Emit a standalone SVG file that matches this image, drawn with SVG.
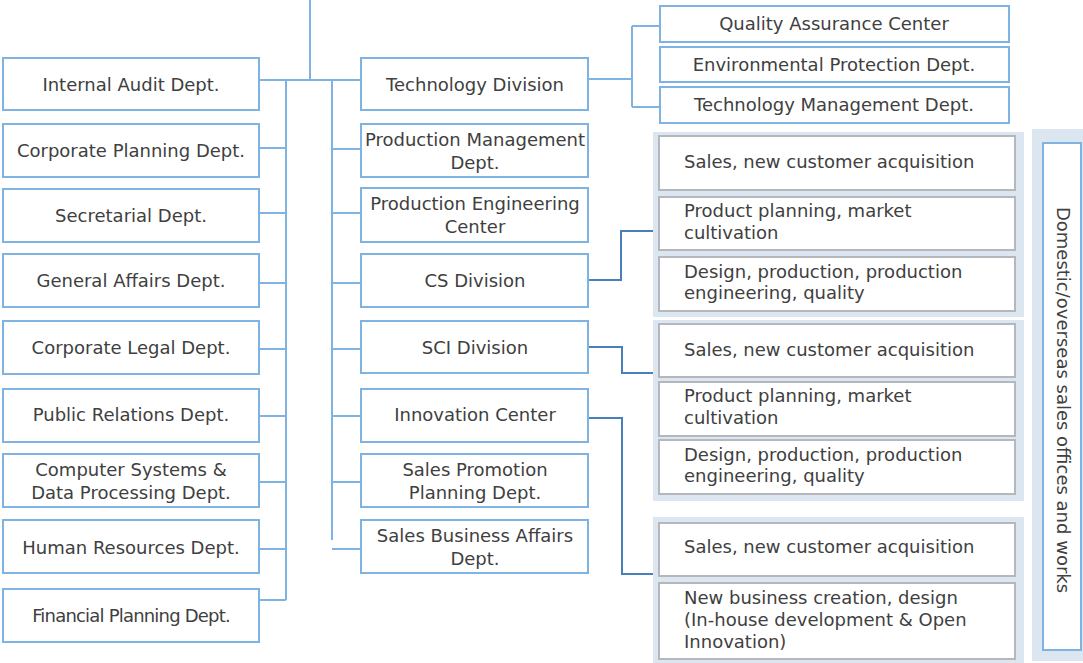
<svg xmlns="http://www.w3.org/2000/svg" width="1083" height="663" viewBox="0 0 1083 663">
<style>
.box{fill:#fff;stroke:#7fb3e1;stroke-width:2}
.sub{fill:#fff;stroke:#b4b8bc;stroke-width:2}
.panel{fill:#dce6f1}
.ln{fill:none;stroke:#7fb3e1;stroke-width:2}
.dk{fill:none;stroke:#4a7fbd;stroke-width:2}
text{font-family:"DejaVu Sans",Verdana,sans-serif;font-size:18px;fill:#404040}
.c{text-anchor:middle}
</style>
<rect width="1083" height="663" fill="#fff"/>
<g id="connectors">
<path class="ln" d="M310,0 V80 M259,80 H360 M286,80 V600 M332,80 V540"/>
<path class="ln" d="M259,148 H286 M259,213 H286 M259,283 H286 M259,349 H286 M259,416 H286 M259,482 H286 M259,549 H286 M259,600 H286"/>
<path class="ln" d="M332,149 H360 M332,213 H360 M332,283 H360 M332,349 H360 M332,416 H360 M332,482 H360 M332,549 H360"/>
<path class="ln" d="M588,79 H632 M632,26 V107 M632,26 H659 M632,107 H659"/>
<path class="dk" d="M588,280 H621 V231 H653"/>
<path class="dk" d="M588,347 H622 V373 H658"/>
<path class="dk" d="M588,418 H622 V574 H653"/>
</g>
<g id="internal-audit"><rect class="box" x="3" y="58" width="256" height="52"/><text class="c" x="131" y="91">Internal Audit Dept.</text></g>
<g id="corporate-planning"><rect class="box" x="3" y="124" width="256" height="53"/><text class="c" x="131" y="157">Corporate Planning Dept.</text></g>
<g id="secretarial"><rect class="box" x="3" y="189" width="256" height="53"/><text class="c" x="131" y="222">Secretarial Dept.</text></g>
<g id="general-affairs"><rect class="box" x="3" y="254" width="256" height="53"/><text class="c" x="131" y="287">General Affairs Dept.</text></g>
<g id="corporate-legal"><rect class="box" x="3" y="321" width="256" height="53"/><text class="c" x="131" y="354">Corporate Legal Dept.</text></g>
<g id="public-relations"><rect class="box" x="3" y="389" width="256" height="53"/><text class="c" x="131" y="421">Public Relations Dept.</text></g>
<g id="computer-systems"><rect class="box" x="3" y="454" width="256" height="53"/><text class="c" x="131" y="476">Computer Systems &amp;</text><text class="c" x="131" y="499">Data Processing Dept.</text></g>
<g id="human-resources"><rect class="box" x="3" y="520" width="256" height="53"/><text class="c" x="131" y="554">Human Resources Dept.</text></g>
<g id="financial-planning"><rect class="box" x="3" y="589" width="256" height="53"/><text class="c" x="131" y="622" letter-spacing="-0.8">Financial Planning Dept.</text></g>

<g id="technology-division"><rect class="box" x="361" y="58" width="227" height="52"/><text class="c" x="475" y="91">Technology Division</text></g>
<g id="production-management"><rect class="box" x="361" y="124" width="227" height="53"/><text class="c" x="475" y="146">Production Management</text><text class="c" x="475" y="169">Dept.</text></g>
<g id="production-engineering"><rect class="box" x="361" y="188" width="227" height="54"/><text class="c" x="475" y="210">Production Engineering</text><text class="c" x="475" y="233">Center</text></g>
<g id="cs-division"><rect class="box" x="361" y="254" width="227" height="53"/><text class="c" x="475" y="287">CS Division</text></g>
<g id="sci-division"><rect class="box" x="361" y="321" width="227" height="52"/><text class="c" x="475" y="354">SCI Division</text></g>
<g id="innovation-center"><rect class="box" x="361" y="389" width="227" height="53"/><text class="c" x="475" y="421">Innovation Center</text></g>
<g id="sales-promotion"><rect class="box" x="361" y="454" width="227" height="53"/><text class="c" x="475" y="476">Sales Promotion</text><text class="c" x="475" y="499">Planning Dept.</text></g>
<g id="sales-business-affairs"><rect class="box" x="361" y="520" width="227" height="53"/><text class="c" x="475" y="542">Sales Business Affairs</text><text class="c" x="475" y="565">Dept.</text></g>

<g id="quality-assurance"><rect class="box" x="660" y="6" width="349" height="36"/><text class="c" x="834" y="30">Quality Assurance Center</text></g>
<g id="environmental-protection"><rect class="box" x="660" y="47" width="349" height="35"/><text class="c" x="834" y="71">Environmental Protection Dept.</text></g>
<g id="technology-management"><rect class="box" x="660" y="87" width="349" height="36"/><text class="c" x="834" y="111">Technology Management Dept.</text></g>

<g id="cs-group">
<rect class="panel" x="653" y="132" width="371" height="185"/>
<rect class="sub" x="659" y="136" width="356" height="54"/><text x="684" y="168">Sales, new customer acquisition</text>
<rect class="sub" x="659" y="197" width="356" height="53"/><text x="684" y="217">Product planning, market</text><text x="684" y="239">cultivation</text>
<rect class="sub" x="659" y="257" width="356" height="54"/><text x="684" y="278">Design, production, production</text><text x="684" y="299">engineering, quality</text>
</g>
<g id="sci-group">
<rect class="panel" x="653" y="320" width="371" height="181"/>
<rect class="sub" x="659" y="324" width="356" height="53"/><text x="684" y="356">Sales, new customer acquisition</text>
<rect class="sub" x="659" y="382" width="356" height="54"/><text x="684" y="402">Product planning, market</text><text x="684" y="424">cultivation</text>
<rect class="sub" x="659" y="440" width="356" height="54"/><text x="684" y="461">Design, production, production</text><text x="684" y="482">engineering, quality</text>
</g>
<g id="innovation-group">
<rect class="panel" x="653" y="517" width="371" height="146"/>
<rect class="sub" x="659" y="523" width="356" height="53"/><text x="684" y="553">Sales, new customer acquisition</text>
<rect class="sub" x="659" y="583" width="356" height="76"/><text x="684" y="604">New business creation, design</text><text x="684" y="626">(In-house development &amp; Open</text><text x="684" y="648">Innovation)</text>
</g>
<g id="sales-offices">
<rect class="panel" x="1032" y="129" width="51" height="532"/>
<rect class="box" x="1043" y="143" width="38" height="507"/>
<text class="c" transform="translate(1057,400) rotate(90)">Domestic/overseas sales offices and works</text>
</g>
</svg>
